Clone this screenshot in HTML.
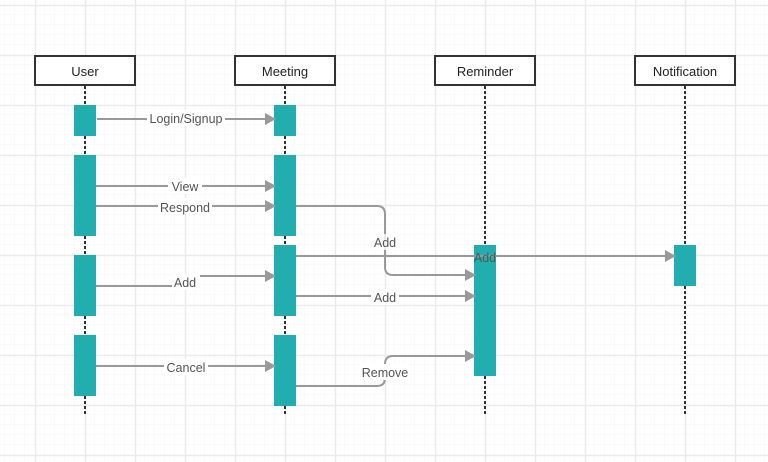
<!DOCTYPE html>
<html><head><style>
html,body{margin:0;padding:0;background:#fff;}
svg{display:block;font-family:"Liberation Sans",sans-serif;}
</style></head><body>
<svg width="768" height="462" viewBox="0 0 768 462" xmlns="http://www.w3.org/2000/svg">
<defs>
<pattern id="minor" width="10" height="10" patternUnits="userSpaceOnUse" x="5" y="5">
<path d="M10 0V10M0 10H10" fill="none" stroke="#f4f4f4" stroke-width="1"/>
</pattern>
<pattern id="major" width="50" height="50" patternUnits="userSpaceOnUse" x="35" y="5">
<path d="M0.5 0V50M0 0.5H50" fill="none" stroke="#ebebeb" stroke-width="1.5"/>
</pattern>
<marker id="ah" markerWidth="12" markerHeight="12" refX="10" refY="6" orient="auto" markerUnits="userSpaceOnUse">
<path d="M0 0L11 6L0 12Z" fill="#999"/>
</marker>
</defs>
<rect width="768" height="462" fill="url(#minor)"/>
<rect width="768" height="462" fill="url(#major)"/>

<g stroke="#333" stroke-width="2" stroke-dasharray="3,2">
<line x1="85" y1="86" x2="85" y2="416"/>
<line x1="285" y1="86" x2="285" y2="416"/>
<line x1="485" y1="86" x2="485" y2="416"/>
<line x1="685" y1="86" x2="685" y2="416"/>
</g>

<g fill="#fff" stroke="#333" stroke-width="2">
<rect x="35" y="56" width="100" height="29"/>
<rect x="235" y="56" width="100" height="29"/>
<rect x="435" y="56" width="100" height="29"/>
<rect x="635" y="56" width="100" height="29"/>
</g>
<g font-size="13" fill="#222" text-anchor="middle">
<text x="85" y="76">User</text>
<text x="285" y="76">Meeting</text>
<text x="485" y="76">Reminder</text>
<text x="685" y="76">Notification</text>
</g>

<g fill="#22aeae">
<rect x="74" y="105" width="22" height="31"/>
<rect x="74" y="155" width="22" height="81"/>
<rect x="74" y="255" width="22" height="61"/>
<rect x="74" y="335" width="22" height="61"/>
<rect x="274" y="105" width="22" height="31"/>
<rect x="274" y="155" width="22" height="81"/>
<rect x="274" y="245" width="22" height="71"/>
<rect x="274" y="335" width="22" height="71"/>
<rect x="474" y="245" width="22" height="131"/>
<rect x="674" y="245" width="22" height="41"/>
</g>

<g fill="none" stroke="#999" stroke-width="2" marker-end="url(#ah)">
<path d="M97 119H275"/>
<path d="M96 186H275"/>
<path d="M96 206H275"/>
<path d="M296 206H377Q385 206 385 214V267Q385 275 393 275H475"/>
<path d="M296 256H675"/>
<path d="M96 286H185V276H275"/>
<path d="M296 296H475"/>
<path d="M96 366H275"/>
<path d="M296 386H377Q385 386 385 378V364Q385 356 393 356H475"/>
</g>

<g font-size="12.5" fill="#555" text-anchor="middle">
<rect x="147" y="110" width="78" height="16" fill="#fff"/>
<text x="186" y="123">Login/Signup</text>
<rect x="168" y="178" width="34" height="16" fill="#fff"/>
<text x="185" y="191">View</text>
<rect x="158" y="198" width="54" height="16" fill="#fff"/>
<text x="185" y="212">Respond</text>
<rect x="370" y="234" width="30" height="16" fill="#fff" fill-opacity="0.8"/>
<text x="385" y="247">Add</text>
<rect x="172" y="274" width="28" height="16" fill="#fff"/>
<text x="185" y="287">Add</text>
<rect x="371" y="289" width="28" height="16" fill="#fff"/>
<text x="385" y="302">Add</text>
<text x="485" y="262">Add</text>
<rect x="164" y="359" width="44" height="16" fill="#fff"/>
<text x="186" y="372">Cancel</text>
<rect x="360" y="364" width="50" height="16" fill="#fff"/>
<text x="385" y="377">Remove</text>
</g>
</svg>
</body></html>
